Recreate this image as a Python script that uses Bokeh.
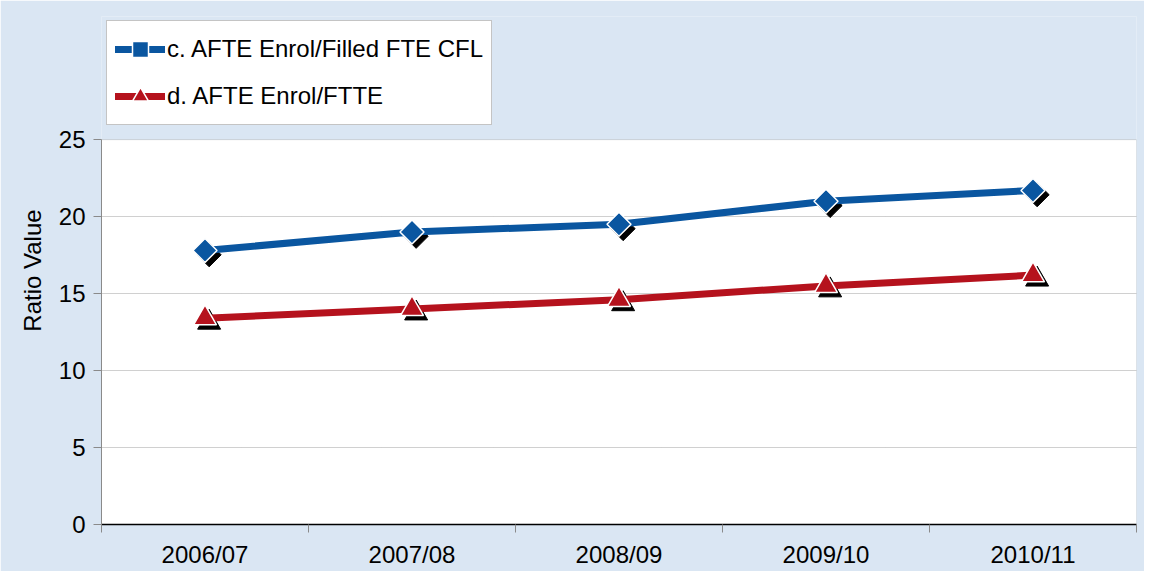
from bokeh.plotting import figure
from bokeh.models import (ColumnDataSource, Range1d, FactorRange, LinearAxis, CategoricalAxis,
                          FixedTicker, Legend, LegendItem, BoxAnnotation)
from bokeh.transform import dodge
from bokeh.embed import file_html
from bokeh.resources import INLINE
import math

years = ["2006/07", "2007/08", "2008/09", "2009/10", "2010/11"]
cfl_ratio = [17.8, 19.0, 19.5, 21.0, 21.7]
ftte_ratio = [13.4, 14.0, 14.6, 15.5, 16.2]
y_ticks = [0, 5, 10, 15, 20, 25]
series_names = ["c. AFTE Enrol/Filled FTE CFL", "d. AFTE Enrol/FTTE"]

BLUE = "#0A56A0"
RED = "#B5121D"
BG = "#DAE6F3"
FONT = "Liberation Sans"

src = ColumnDataSource(dict(year=years, cfl=cfl_ratio, ftte=ftte_ratio))

# the frame extends above the 0-25 plot area so the legend can sit in the top margin
p = figure(width=1144, height=571, x_range=FactorRange(*years, range_padding=0),
           y_range=Range1d(0, 33), output_backend="svg", toolbar_location=None,
           x_axis_location=None, y_axis_location=None,
           min_border_left=101, min_border_right=8, min_border_top=16, min_border_bottom=47)
p.background_fill_color = BG
p.border_fill_color = BG
p.outline_line_color = None

area = BoxAnnotation(bottom=0, top=25, fill_color="white", fill_alpha=1,
                     line_color="#8A8A8A", line_width=1, level="image")
p.add_layout(area)

# y axis
yax = LinearAxis(ticker=FixedTicker(ticks=y_ticks), axis_label="Ratio Value", bounds=(0, 25))
yax.axis_line_color = "#8A8A8A"
yax.major_tick_line_color = "#8A8A8A"
yax.major_tick_out = 8
yax.major_tick_in = 0
yax.minor_tick_line_color = None
yax.major_label_standoff = 8
yax.major_label_text_font = FONT
yax.major_label_text_font_size = "24px"
yax.major_label_text_color = "black"
yax.axis_label_text_font = FONT
yax.axis_label_text_font_size = "24px"
yax.axis_label_text_font_style = "normal"
yax.axis_label_text_color = "black"
yax.axis_label_standoff = 10
p.add_layout(yax, "left")

# x tick axis at category boundaries (synthetic coordinates 0..5)
bax = LinearAxis(ticker=FixedTicker(ticks=[0, 1, 2, 3, 4, 5]))
bax.axis_line_color = "black"
bax.axis_line_width = 1.5
bax.major_tick_line_color = "#8A8A8A"
bax.major_tick_out = 8
bax.major_tick_in = 0
bax.minor_tick_line_color = None
bax.major_label_text_font_size = "1px"
bax.major_label_text_color = None
bax.major_label_standoff = 0
p.add_layout(bax, "below")

# x category labels
cax = CategoricalAxis()
cax.axis_line_color = None
cax.major_tick_line_color = None
cax.minor_tick_line_color = None
cax.major_label_standoff = 2
cax.major_label_text_font = FONT
cax.major_label_text_font_size = "24px"
cax.major_label_text_color = "black"
p.add_layout(cax, "below")

p.xgrid.visible = False
p.ygrid.ticker = FixedTicker(ticks=[5, 10, 15, 20])
p.ygrid.grid_line_color = "#A0A0A0"
p.ygrid.grid_line_dash = "1 1"
p.ygrid.grid_line_width = 1

# shadows
p.scatter(x=dodge("year", 0.02, range=p.x_range), y=dodge("cfl", -0.28), source=src,
          marker="square", angle=math.pi / 4, size=17, fill_color="black", line_color="black")
p.scatter(x=dodge("year", 0.02, range=p.x_range), y=dodge("ftte", -0.28), source=src,
          marker="triangle", size=23, fill_color="black", line_color="black")

l1 = p.line("year", "cfl", source=src, line_color=BLUE, line_width=7, line_join="round",
            line_cap="round")
m1 = p.scatter("year", "cfl", source=src, marker="square", angle=math.pi / 4, size=17,
               fill_color=BLUE, line_color="white", line_width=1.5)
l2 = p.line("year", "ftte", source=src, line_color=RED, line_width=7, line_join="round",
            line_cap="round")
m2 = p.scatter("year", "ftte", source=src, marker="triangle", size=23,
               fill_color=RED, line_color="white", line_width=1.5)

legend = Legend(items=[LegendItem(label=series_names[0], renderers=[l1, m1]),
                       LegendItem(label=series_names[1], renderers=[l2, m2])],
                location=(5, 399))
legend.label_text_font = FONT
legend.label_text_font_size = "24px"
legend.label_text_color = "black"
legend.glyph_width = 50
legend.glyph_height = 40
legend.label_height = 40
legend.label_standoff = 2
legend.spacing = 7
legend.padding = 8
legend.margin = 0
legend.border_line_color = "#8A8A8A"
legend.border_line_width = 1
legend.background_fill_color = "white"
legend.background_fill_alpha = 1
p.add_layout(legend, "center")

open("out.html", "w").write(file_html(p, INLINE))
